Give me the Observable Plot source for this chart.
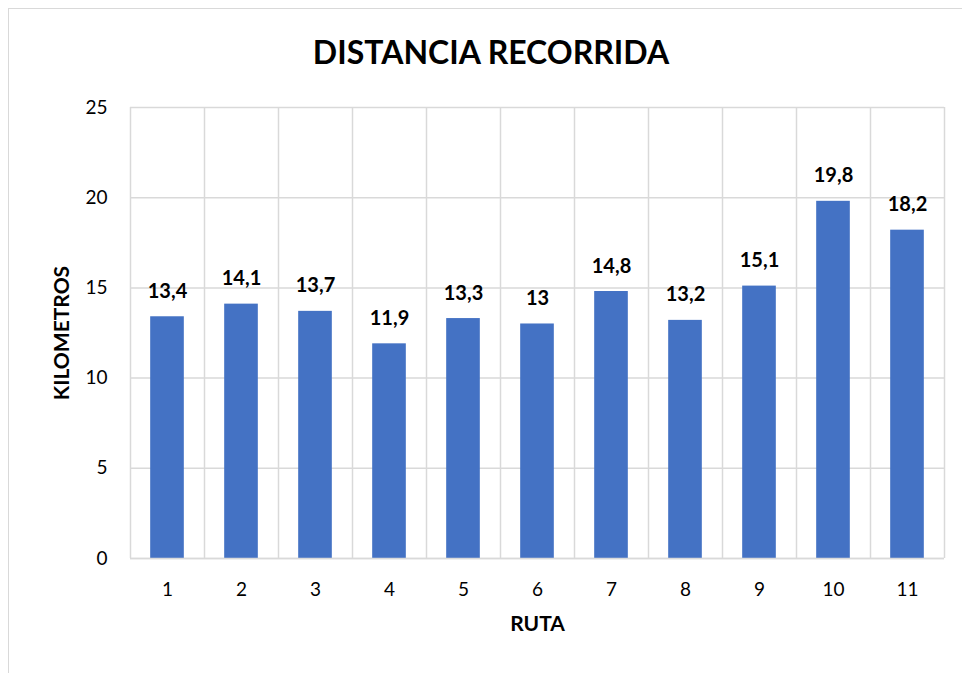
<!DOCTYPE html>
<html>
<head>
<meta charset="utf-8">
<script src="https://cdn.jsdelivr.net/npm/d3@7"></script>
<script src="https://cdn.jsdelivr.net/npm/@observablehq/plot@0.6"></script>
<style>
  html, body { margin: 0; padding: 0; background: #fff; overflow: hidden; }
  #wrap { position: relative; width: 962px; height: 673px; overflow: hidden; font-family: Lato, "Open Sans", sans-serif; }
  #border { position: absolute; left: 8px; top: 8px; width: 1100px; height: 800px; border: 1.5px solid #d9d9d9; box-sizing: border-box; }
  #title { position: absolute; left: 0; width: 982px; top: 32px; text-align: center; font-size: 32px; font-weight: 700; color: #000; }
  #chart { position: absolute; left: 0; top: 0; }
</style>
</head>
<body>
<div id="wrap">
  <div id="border"></div>
  <div id="chart"></div>
  <div id="title">DISTANCIA RECORRIDA</div>
</div>
<script>
const rutas = [1, 2, 3, 4, 5, 6, 7, 8, 9, 10, 11];
const kilometros = [13.4, 14.1, 13.7, 11.9, 13.3, 13, 14.8, 13.2, 15.1, 19.8, 18.2];
const yTicks = [0, 5, 10, 15, 20, 25];
const data = rutas.map((r, i) => ({ruta: r, km: kilometros[i]}));
const half = 0.5 / 2.2; // Excel gap width 120%
const fmt = v => String(v).replace(".", ",");

const plot = Plot.plot({
  width: 962,
  height: 673,
  marginLeft: 130,
  marginRight: 18,
  marginTop: 107,
  marginBottom: 115,
  style: { fontFamily: "Lato, 'Open Sans', sans-serif", background: "transparent", overflow: "visible" },
  x: { domain: [0.5, 11.5], ticks: rutas, tickFormat: d => d, tickSize: 0, tickPadding: 24, label: null },
  y: { domain: [0, 25], ticks: yTicks, tickSize: 0, tickPadding: 23, label: null },
  marks: [
    Plot.gridY(yTicks, { stroke: "#d9d9d9", strokeOpacity: 1, strokeWidth: 1.5 }),
    Plot.ruleX(rutas.map(r => r - 0.5).concat([11.5]), { stroke: "#d9d9d9", strokeWidth: 1.5 }),
    Plot.rectY(data, { x1: d => d.ruta - half, x2: d => d.ruta + half, y1: 0, y2: "km", fill: "#4472C4" }),
    Plot.ruleY([0], { stroke: "#d9d9d9", strokeWidth: 1.5 }),
    Plot.text(data, { x: "ruta", y: "km", text: d => fmt(d.km), lineAnchor: "bottom", dy: -19, fontSize: 20, fontWeight: 700, fill: "#000" }),
    Plot.axisX({ ticks: rutas, tickSize: 0, tickPadding: 24, fontSize: 19, fill: "#000", label: null }),
    Plot.axisY({ ticks: yTicks, tickSize: 0, tickPadding: 23, fontSize: 19, fill: "#000", label: null }),
    Plot.text(["RUTA"], { frameAnchor: "bottom", dy: 72, fontSize: 21, fontWeight: 700, fill: "#000" }),
    Plot.text(["KILOMETROS"], { frameAnchor: "left", textAnchor: "middle", dx: -68, rotate: -90, fontSize: 21, fontWeight: 700, fill: "#000" })
  ]
});
document.getElementById("chart").appendChild(plot);
</script>
</body>
</html>
